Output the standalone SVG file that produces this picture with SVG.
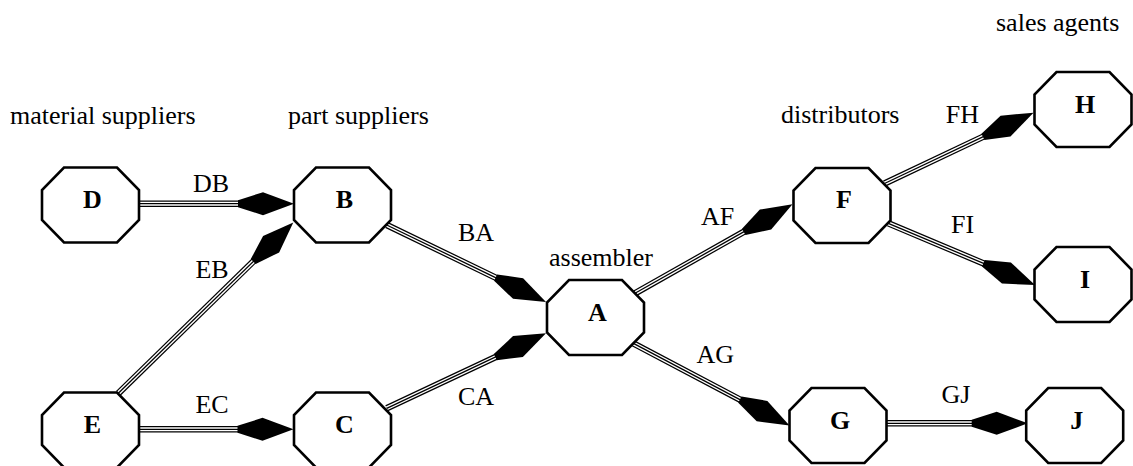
<svg xmlns="http://www.w3.org/2000/svg" xmlns:xlink="http://www.w3.org/1999/xlink" width="1133" height="466" viewBox="0 0 1133 466">
<style>
text{font-family:"Liberation Serif","Times New Roman",serif;font-size:26px;fill:#000}
.nl{font-weight:bold;text-anchor:middle}
.el{text-anchor:middle}
.o{stroke:#000;stroke-width:6.5;fill:none}
.w{stroke:#fff;stroke-width:4;fill:none}
.c{stroke:#000;stroke-width:1.3;fill:none}
</style>
<defs>
<polygon id="oct" points="-26.5,-37.5 26.5,-37.5 48.5,-15 48.5,15 26.5,37.5 -26.5,37.5 -48.5,15 -48.5,-15" fill="#fff" stroke="#000" stroke-width="2.6" stroke-linejoin="miter"/>
<polygon id="ah" points="0,0 -31,-11.5 -56,-3.5 -56,3.5 -31,11.5" fill="#000"/>
</defs>
<rect width="1133" height="466" fill="#fff"/>
<g id="titles">
<text x="10" y="124">material suppliers</text>
<text x="288" y="124">part suppliers</text>
<text x="549" y="266">assembler</text>
<text x="781" y="123">distributors</text>
<text x="996" y="31">sales agents</text>
</g>
<g id="connectors">
<g id="e-DB"><path class="o" d="M139,203.7 L246,203.7"/><path class="w" d="M139,203.7 L246,203.7"/><path class="c" d="M139,203.7 L246,203.7"/><use xlink:href="#ah" href="#ah" transform="translate(294,203.7)"/><text class="el" x="211" y="191.7">DB</text></g>
<g id="e-EB"><path class="o" d="M118.3,393.3 L258.9,256"/><path class="w" d="M118.3,393.3 L258.9,256"/><path class="c" d="M118.3,393.3 L258.9,256"/><use xlink:href="#ah" href="#ah" transform="translate(293.3,222.5) rotate(-44.3)"/><text class="el" x="212" y="278">EB</text></g>
<g id="e-EC"><path class="o" d="M139,429.3 L245.5,429.3"/><path class="w" d="M139,429.3 L245.5,429.3"/><path class="c" d="M139,429.3 L245.5,429.3"/><use xlink:href="#ah" href="#ah" transform="translate(293.5,429.3)"/><text class="el" x="212" y="413">EC</text></g>
<g id="e-BA"><path class="o" d="M386.7,225 L502.8,281.1"/><path class="w" d="M386.7,225 L502.8,281.1"/><path class="c" d="M386.7,225 L502.8,281.1"/><use xlink:href="#ah" href="#ah" transform="translate(546,302) rotate(25.8)"/><text class="el" x="476" y="240.7">BA</text></g>
<g id="e-CA"><path class="o" d="M386.7,408.3 L502.6,353.7"/><path class="w" d="M386.7,408.3 L502.6,353.7"/><path class="c" d="M386.7,408.3 L502.6,353.7"/><use xlink:href="#ah" href="#ah" transform="translate(546,333.3) rotate(-25.2)"/><text class="el" x="476" y="405">CA</text></g>
<g id="e-AF"><path class="o" d="M635,293.3 L750.7,227.9"/><path class="w" d="M635,293.3 L750.7,227.9"/><path class="c" d="M635,293.3 L750.7,227.9"/><use xlink:href="#ah" href="#ah" transform="translate(792.5,204.3) rotate(-29.5)"/><text class="el" x="717.7" y="225">AF</text></g>
<g id="e-AG"><path class="o" d="M632,342.7 L747,403.3"/><path class="w" d="M632,342.7 L747,403.3"/><path class="c" d="M632,342.7 L747,403.3"/><use xlink:href="#ah" href="#ah" transform="translate(789.5,425.5) rotate(27.6)"/><text class="el" x="715.3" y="363.3">AG</text></g>
<g id="e-FH"><path class="o" d="M884.5,183.5 L990.2,133.4"/><path class="w" d="M884.5,183.5 L990.2,133.4"/><path class="c" d="M884.5,183.5 L990.2,133.4"/><use xlink:href="#ah" href="#ah" transform="translate(1033.5,112.7) rotate(-25.5)"/><text class="el" x="962.3" y="122.7">FH</text></g>
<g id="e-FI"><path class="o" d="M888.3,223.3 L990.7,266.4"/><path class="w" d="M888.3,223.3 L990.7,266.4"/><path class="c" d="M888.3,223.3 L990.7,266.4"/><use xlink:href="#ah" href="#ah" transform="translate(1035,285) rotate(22.8)"/><text class="el" x="962.5" y="232.7">FI</text></g>
<g id="e-GJ"><path class="o" d="M886,423.3 L979.7,423.3"/><path class="w" d="M886,423.3 L979.7,423.3"/><path class="c" d="M886,423.3 L979.7,423.3"/><use xlink:href="#ah" href="#ah" transform="translate(1027.7,423.3)"/><text class="el" x="956" y="403.3">GJ</text></g>
</g>
<g id="node-D"><use xlink:href="#oct" href="#oct" x="90.5" y="205"/><text class="nl" x="92.5" y="208.3">D</text></g>
<g id="node-B"><use xlink:href="#oct" href="#oct" x="342.5" y="205"/><text class="nl" x="344.5" y="208.3">B</text></g>
<g id="node-E"><use xlink:href="#oct" href="#oct" x="90.5" y="430"/><text class="nl" x="92.5" y="433.3">E</text></g>
<g id="node-C"><use xlink:href="#oct" href="#oct" x="342.5" y="430"/><text class="nl" x="344.5" y="433.3">C</text></g>
<g id="node-A"><use xlink:href="#oct" href="#oct" x="595.5" y="317.5"/><text class="nl" x="597.5" y="320.5">A</text></g>
<g id="node-F"><use xlink:href="#oct" href="#oct" x="842" y="205.5"/><text class="nl" x="844" y="208">F</text></g>
<g id="node-G"><use xlink:href="#oct" href="#oct" x="838" y="425.5"/><text class="nl" x="840" y="428.5">G</text></g>
<g id="node-H"><use xlink:href="#oct" href="#oct" x="1083" y="109.5"/><text class="nl" x="1085" y="112.5">H</text></g>
<g id="node-I"><use xlink:href="#oct" href="#oct" x="1083" y="284.5"/><text class="nl" x="1085" y="287.5">I</text></g>
<g id="node-J"><use xlink:href="#oct" href="#oct" x="1074.7" y="425.5"/><text class="nl" x="1076.7" y="428.5">J</text></g>
</svg>
